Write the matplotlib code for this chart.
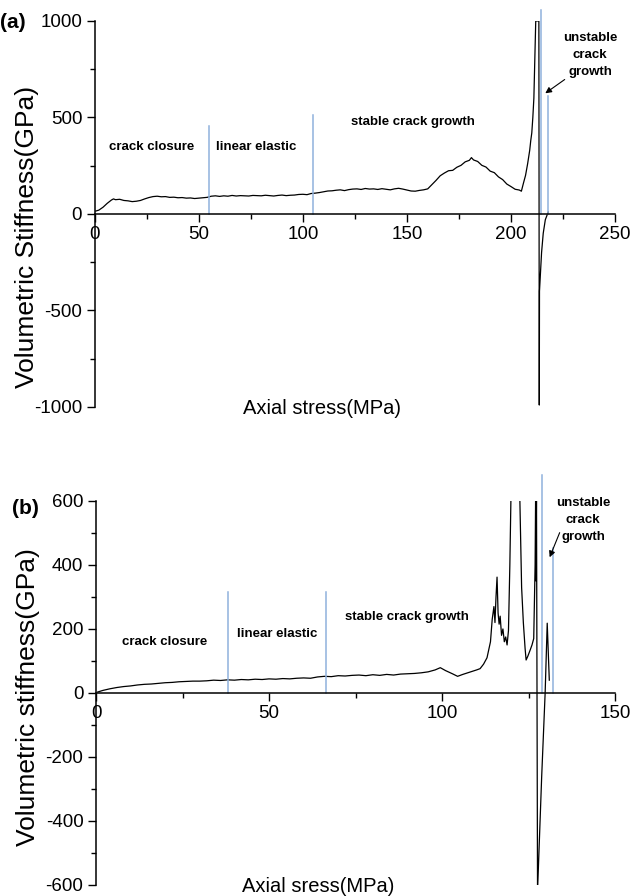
import numpy as np
import matplotlib
matplotlib.use("Agg")
import matplotlib.pyplot as plt

plt.rcParams['font.family'] = ['Liberation Sans', 'DejaVu Sans']
plt.rcParams['axes.unicode_minus'] = False

# panel (a): volumetric stiffness vs axial stress
stress_a = [0.5, 2, 4, 6, 8, 9, 10, 12, 14, 16, 18, 20, 22, 24, 26, 28, 30, 32, 34, 36,
            38, 40, 42, 44, 46, 48, 50, 52, 54, 56, 58, 60, 62, 64, 66, 68, 70, 72, 74, 76,
            78, 80, 82, 84, 86, 88, 90, 92, 94, 96, 98, 100, 102, 104, 106, 108, 110, 112, 114, 116,
            118, 120, 122, 124, 126, 128, 130, 132, 134, 136, 138, 140, 142, 144, 146, 148, 150, 152, 154, 156,
            158, 160, 162, 164, 166, 168, 170, 172, 174, 176, 178, 180, 181, 182, 184, 186, 188, 190, 192, 194,
            196, 198, 200, 202, 204, 205, 206, 207, 208, 209, 209.5, 210, 210.5, 211, 211.9, 213.4, 213.6, 213.7, 214.7, 215.5,
            216.5, 217.9]
stiff_a = [15, 20, 35, 55, 72, 78, 74, 76, 70, 68, 64, 66, 70, 78, 85, 90, 92, 89, 90, 86,
           87, 84, 85, 82, 83, 80, 82, 84, 86, 92, 94, 91, 94, 92, 96, 93, 95, 94, 93, 96,
           95, 94, 97, 95, 93, 96, 98, 95, 97, 98, 101, 102, 100, 106, 108, 111, 115, 119, 120, 123,
           125, 121, 126, 129, 130, 127, 132, 129, 130, 127, 131, 128, 125, 130, 133, 129, 124, 119, 118, 122,
           125, 130, 152, 174, 198, 212, 224, 226, 242, 252, 270, 278, 292, 280, 272, 252, 243, 222, 214, 192,
           178, 155, 142, 128, 124, 118, 160, 200, 260, 330, 380, 420, 500, 600, 1000, 1000, -990, -400, -200, -100,
           -30, 10]

# panel (b)
stress_b = [0.5, 2, 4, 6, 8, 10, 12, 14, 16, 18, 20, 22, 24, 26, 28, 30, 32, 34, 36, 38,
            40, 42, 44, 46, 48, 50, 52, 54, 56, 58, 60, 62, 64, 66, 68, 70, 72, 74, 76, 78,
            80, 82, 84, 86, 88, 90, 92, 94, 96, 98, 99.5, 101, 103, 104.5, 106, 108, 110, 111, 112, 113,
            114, 114.5, 115, 115.3, 115.6, 115.9, 116.2, 116.5, 116.8, 117.2, 117.6, 118, 118.4, 118.8, 119.2, 119.6, 119.9, 120.2, 122.3, 122.5,
            123, 123.5, 124, 124.3, 124.8, 125.5, 126, 126.5, 126.9, 127.05, 127.15, 127.3, 127.6, 128.8, 129.8, 130.4, 131]
stiff_b = [3, 8, 13, 17, 20, 22, 25, 27, 28, 30, 32, 33, 35, 36, 37, 37, 38, 40, 39, 41,
           40, 42, 41, 43, 42, 44, 43, 45, 44, 46, 47, 46, 50, 52, 51, 54, 53, 55, 56, 54,
           57, 55, 58, 56, 59, 60, 61, 63, 66, 72, 79, 70, 60, 52, 58, 65, 72, 76, 90, 110,
           160, 230, 270, 220, 300, 362, 250, 215, 240, 180, 200, 160, 175, 150, 195, 400, 600, 700, 700, 600,
           330, 220, 140, 103, 115, 135, 150, 170, 400, 620, 350, 620, -620, -261, 0, 218, 40]

bounds_a = [54.8, 104.8, 214.4, 217.8]
bound_tops_a = [456, 513, 1057, 611]
bounds_b = [38.1, 66.5, 128.8, 132.1]
bound_tops_b = [316, 316, 680, 453]

region_names = ['crack closure', 'linear elastic', 'stable crack growth', 'unstable\ncrack\ngrowth']
name_pos_a = [(27.4, 347), (77.4, 347), (152.9, 477), (238, 824)]
name_pos_b = [(19.7, 159), (52.3, 184), (89.9, 237), (140.8, 540)]
arrow_a = [(226.9, 705), (215.4, 617)]
arrow_b = [(134.3, 509), (130.8, 416)]

blue = '#8fb1dc'
note_font = ['Liberation Sans Narrow', 'Liberation Sans', 'DejaVu Sans']

fig = plt.figure(figsize=(6.4, 8.96), dpi=100)
ax_a = fig.add_axes([0.148, 0.5458, 0.813, 0.4308])
ax_b = fig.add_axes([0.150, 0.0123, 0.811, 0.4286])


def style_axes(ax, xmax, xmajor, ymin, ymax, ymajor):
    ax.spines['top'].set_visible(False)
    ax.spines['right'].set_visible(False)
    ax.spines['bottom'].set_position(('data', 0))
    ax.spines['left'].set_position(('data', 0))
    ax.set_xlim(0, xmax)
    ax.set_ylim(ymin, ymax)
    ax.set_xticks(np.arange(0, xmax + 1, xmajor))
    ax.set_xticks(np.arange(xmajor / 2, xmax, xmajor), minor=True)
    ax.set_yticks(np.arange(ymin, ymax + 1, ymajor))
    ax.set_yticks(np.arange(ymin + ymajor / 2, ymax, ymajor), minor=True)
    ax.tick_params(which='major', direction='out', length=6, width=1, labelsize=13.5, pad=3)
    ax.tick_params(which='minor', direction='out', length=3.5, width=1)
    for s in ['bottom', 'left']:
        ax.spines[s].set_linewidth(1.1)


style_axes(ax_a, 250, 50, -1000, 1000, 500)
style_axes(ax_b, 150, 50, -600, 600, 200)

ax_a.plot(stress_a, stiff_a, color='black', lw=0.9)
ax_b.plot(stress_b, stiff_b, color='black', lw=0.9)

for ax, xs, tops in [(ax_a, bounds_a, bound_tops_a), (ax_b, bounds_b, bound_tops_b)]:
    for x, t in zip(xs, tops):
        ax.plot([x, x], [0, t], color=blue, lw=1.1, clip_on=False)

for ax, pos, arr in [(ax_a, name_pos_a, arrow_a), (ax_b, name_pos_b, arrow_b)]:
    for name, (x, y) in zip(region_names, pos):
        ax.text(x, y, name, ha='center', va='center', fontsize=9.5, fontweight='bold',
                family=note_font, linespacing=1.55)
    ax.annotate('', xy=arr[1], xytext=arr[0],
                arrowprops=dict(arrowstyle='-|>', color='black', lw=0.8, mutation_scale=9))

ax_a.set_ylabel('Volumetric Stiffness(GPa)', fontsize=19)
ax_b.set_ylabel('Volumetric stiffness(GPa)', fontsize=19)
ax_a.yaxis.set_label_coords(-0.108, 0.44)
ax_b.yaxis.set_label_coords(-0.108, 0.49)
ax_a.text(0.437, -0.003, 'Axial stress(MPa)', transform=ax_a.transAxes,
          ha='center', va='center', fontsize=14.5)
ax_b.text(0.428, -0.003, 'Axial sress(MPa)', transform=ax_b.transAxes,
          ha='center', va='center', fontsize=14.5)

fig.text(0.0, 0.975, '(a)', fontsize=15, fontweight='bold', ha='left', va='center')
fig.text(0.018, 0.432, '(b)', fontsize=15, fontweight='bold', ha='left', va='center')

fig.savefig('out.png', dpi=100)
